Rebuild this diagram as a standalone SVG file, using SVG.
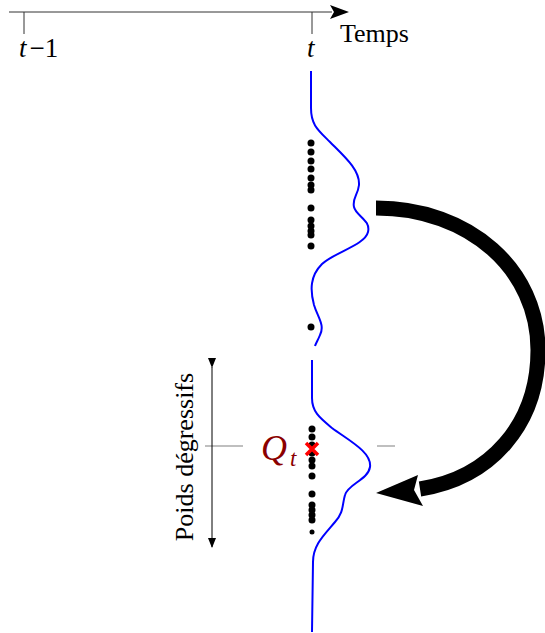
<svg xmlns="http://www.w3.org/2000/svg" width="545" height="633" viewBox="0 0 545 633">
<style>
.ax{stroke:#333;stroke-width:1;fill:none}
.tx{font-family:"Liberation Serif",serif;fill:#000}
.it{font-style:italic}
.blue{stroke:#0000ff;stroke-width:2;fill:none}
.dot{fill:#000}
.gray{stroke:#aaa;stroke-width:1.5}
</style>
<defs>
<marker id="ah" markerWidth="10" markerHeight="8" refX="9" refY="4" orient="auto" markerUnits="userSpaceOnUse">
<path d="M0,0 L10,4 L0,8 Z" fill="#000"/>
</marker>
</defs>
<g id="axis">
<line x1="9" y1="12" x2="332" y2="12" class="ax"/>
<path d="M349,12 L330,5 L334,12 L330,19 Z" fill="#000"/>
<line x1="24" y1="12" x2="24" y2="34" class="ax"/>
<line x1="312" y1="12" x2="312" y2="34" class="ax"/>
<text class="tx" x="19" y="57" font-size="27"><tspan class="it">t</tspan><tspan dx="3">−1</tspan></text>
<text class="tx it" x="307" y="57" font-size="27">t</text>
<text class="tx" x="340" y="42" font-size="26">Temps</text>
</g>
<g id="upper-density">
<path class="blue" d="M311,71 L311,108 C311,125 318,130 330,142 C345,157 360,170 359,185 C358,195 352,198 354,207 C356,216 371,220 368,232 C365,245 335,252 322,264 C310,276 310,290 314,305 C318,318 325,325 320,335 C318,340 316,343 315,346"/>
<g class="dot">
<circle cx="311" cy="143" r="3.5"/><circle cx="311" cy="152" r="3.5"/><circle cx="311" cy="161" r="3.5"/><circle cx="311" cy="169" r="3.5"/><circle cx="311" cy="178" r="3.5"/><circle cx="311" cy="185" r="3.5"/><circle cx="311" cy="190" r="3.5"/><circle cx="311" cy="208" r="3.5"/><circle cx="311" cy="220" r="3.5"/><circle cx="311" cy="226" r="3.5"/><circle cx="311" cy="231" r="3.5"/><circle cx="311" cy="235" r="3.5"/><circle cx="311" cy="246" r="3.5"/>
<circle cx="311" cy="327" r="3.5"/>
</g>
</g>
<g id="lower-density">
<path class="blue" d="M312,360 L312,398 C312,412 320,418 332,428 C348,440 372,452 370,467 C368,480 348,484 345,495 C342,505 344,512 335,522 C324,535 313,545 313,562 L312,632"/>
<g class="dot">
<circle cx="312" cy="429" r="3.5"/><circle cx="312" cy="437" r="3.5"/><circle cx="312" cy="445" r="3.5"/><circle cx="312" cy="453" r="3.5"/><circle cx="312" cy="460" r="3.5"/><circle cx="312" cy="466" r="3.5"/><circle cx="312" cy="476" r="3.5"/><circle cx="312" cy="494" r="3.5"/><circle cx="312" cy="505" r="3.5"/><circle cx="312" cy="510" r="3.5"/><circle cx="312" cy="515" r="3.5"/><circle cx="312" cy="520" r="3.5"/><circle cx="312" cy="532" r="2.5"/>
</g>
</g>
<g id="quantile">
<line x1="205" y1="446" x2="243" y2="446" class="gray"/>
<line x1="377" y1="446" x2="395" y2="446" class="gray"/>
<path d="M306,443 L318,455 M318,443 L306,455" stroke="#ff0000" stroke-width="3.5" fill="none"/>
<text class="tx it" x="261" y="460" font-size="36" style="fill:#8b0000">Q<tspan font-size="23" dy="6" dx="3">t</tspan></text>
</g>
<g id="weights">
<line x1="212" y1="367" x2="212" y2="547" stroke="#000" stroke-width="1" marker-start="url(#ah)" marker-end="url(#ah)"/>
<text class="tx" transform="translate(193,457) rotate(-90)" text-anchor="middle" font-size="26">Poids dégressifs</text>
</g>
<g id="connectors">
<path d="M376,208 C470,208 538,270 538,350 C538,425 490,478 420,489" stroke="#000" stroke-width="15" fill="none"/>
<path d="M376,493 L418,475 L414,490 L423,506 Z" fill="#000"/>
</g>
</svg>
